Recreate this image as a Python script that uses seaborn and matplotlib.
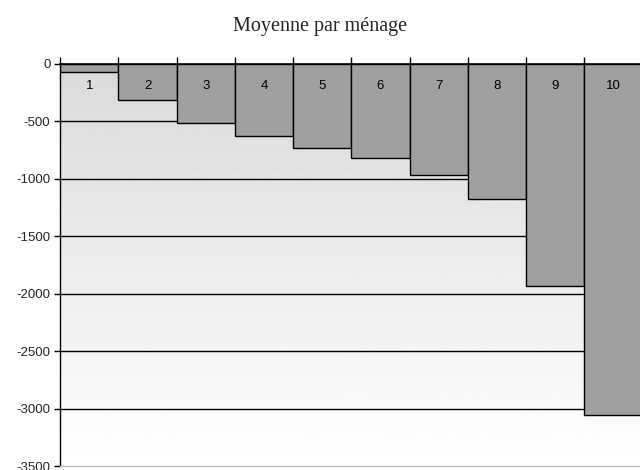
import numpy as np
import pandas as pd
import matplotlib
matplotlib.use("Agg")
import matplotlib.pyplot as plt
import seaborn as sns

# data
categories = ["1", "2", "3", "4", "5", "6", "7", "8", "9", "10"]
values = [-70, -315, -510, -630, -730, -820, -965, -1180, -1930, -3055]
yticks = [0, -500, -1000, -1500, -2000, -2500, -3000, -3500]
ytick_labels = ["0", "-500", "-1000", "-1500", "-2000", "-2500", "-3000", "-3500"]

df = pd.DataFrame({"decile": categories, "moyenne": values})

sns.set_theme(style="white")
plt.rcParams["font.family"] = ["Liberation Sans", "DejaVu Sans"]

fig = plt.figure(figsize=(6.4, 4.7), dpi=100)
ax = fig.add_axes([0.094, 0.0085, 0.91, 0.8555])

# gradient background (light grey at top to white at bottom)
grad = np.linspace(0.855, 1.0, 256).reshape(-1, 1)
ax.imshow(grad, cmap="gray", vmin=0, vmax=1, aspect="auto",
          extent=[-0.5, 9.5, -3500, 0], zorder=0, origin="upper")

# gridlines
for t in yticks[1:-1]:
    ax.axhline(t, color="black", lw=1.0, zorder=1)

sns.barplot(data=df, x="decile", y="moyenne", order=categories,
            color="#a0a0a0", saturation=1, width=1.0,
            edgecolor="black", linewidth=1.0, ax=ax, zorder=2)

ax.axhline(0, color="black", lw=1.2, zorder=3, clip_on=False)

ax.set_xlim(-0.5, 9.5)
ax.set_ylim(-3500, 0)

# category labels inside the bars, just under zero
for i, c in enumerate(categories):
    ax.text(i, -190, c, ha="center", va="center", fontsize=9.5, color="black", zorder=4)

ax.set_xlabel("")
ax.set_ylabel("")
ax.set_xticks(np.arange(-0.5, 10, 1.0))
ax.set_xticklabels([])
ax.xaxis.set_ticks_position("top")
ax.tick_params(axis="x", top=True, bottom=False, direction="out", length=5,
               width=1, color="black")
ax.set_yticks(yticks)
ax.set_yticklabels(ytick_labels, fontsize=9.5)
ax.tick_params(axis="y", left=True, direction="out", length=4, width=1,
               color="black", pad=3)

for s in ["top", "right"]:
    ax.spines[s].set_visible(False)
ax.spines["left"].set_color("black")
ax.spines["left"].set_linewidth(1.0)
ax.spines["bottom"].set_color("#c0c0c0")
ax.spines["bottom"].set_linewidth(1.0)

fig.text(0.5, 0.944, "Moyenne par ménage", ha="center", va="center",
         fontsize=14.5, family=["Liberation Serif", "DejaVu Serif"])

fig.savefig("out.png", dpi=100)
